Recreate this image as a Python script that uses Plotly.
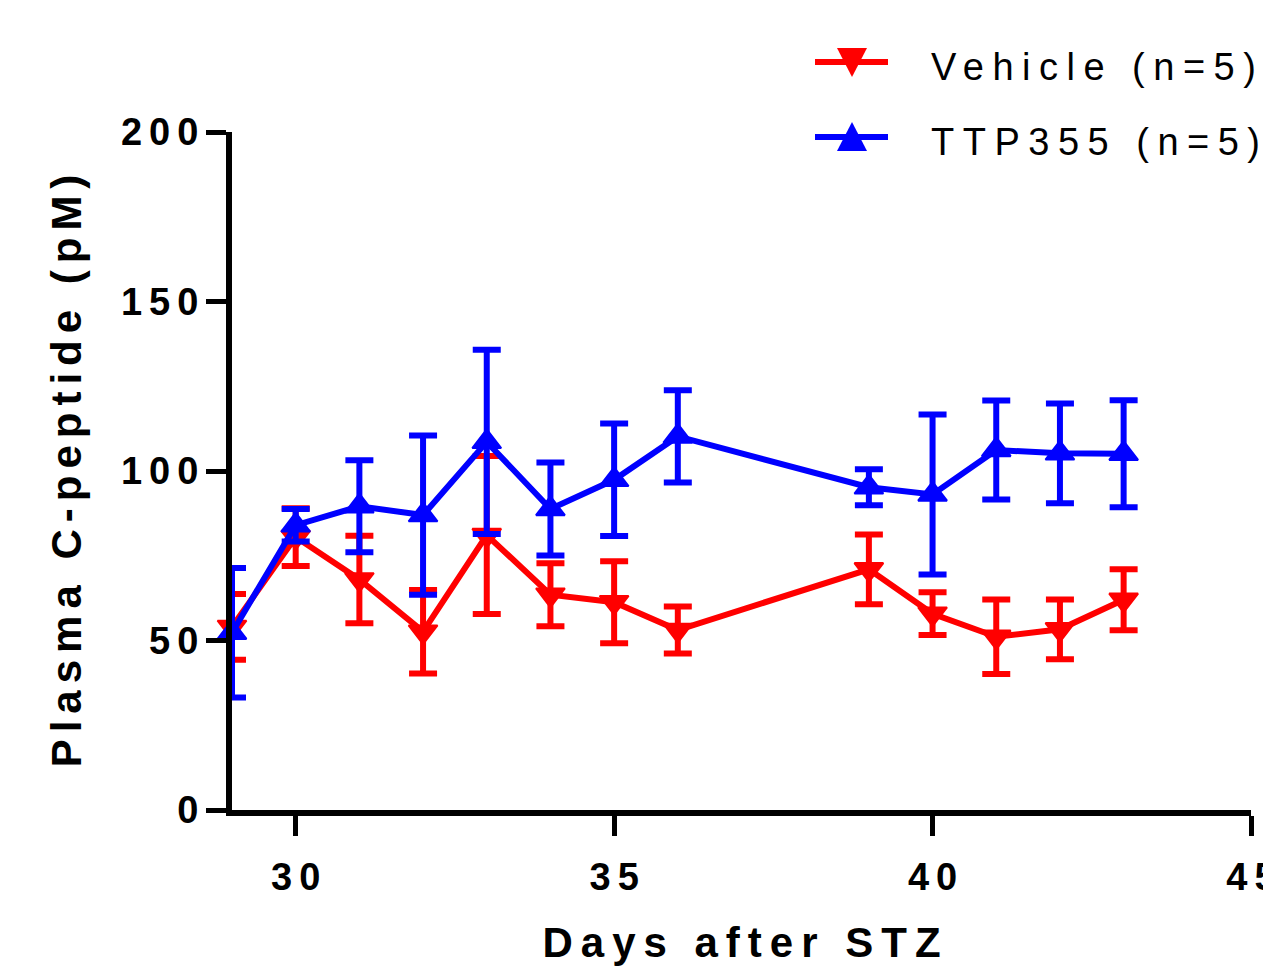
import plotly.graph_objects as go

days = [29, 30, 31, 32, 33, 34, 35, 36, 39, 40, 41, 42, 43]
vehicle_mean = [54.0, 80.5, 68.0, 52.6, 81.1, 63.5, 61.3, 53.1, 71.0, 57.9, 51.1, 53.3, 62.0]
vehicle_err = [9.7, 8.5, 12.9, 12.3, 23.3, 9.3, 12.1, 6.9, 10.3, 6.3, 11.0, 8.8, 9.0]
ttp_mean = [52.3, 84.0, 89.6, 87.0, 108.6, 88.8, 97.4, 110.2, 95.2, 93.1, 106.2, 105.2, 105.1]
ttp_err = [19.1, 4.8, 13.6, 23.5, 27.2, 13.7, 16.6, 13.6, 5.3, 23.6, 14.6, 14.7, 15.8]

x_ticks = [30, 35, 40, 45]
y_ticks = [0, 50, 100, 150, 200]
series_names = ["Vehicle (n=5)", "TTP355 (n=5)"]

RED = "#FF0000"
BLUE = "#0000FF"
FONT = "Arial, Liberation Sans, sans-serif"

W, H = 1263, 966
L, R, T, B = 232, 12, 132, 156
PW, PH = W - L - R, H - T - B


def px(x):
    return (x - L) / PW


def py(y):
    return (H - B - y) / PH


def spaced(s, sp):
    # letter spacing between characters, no trailing gap after the last one
    if len(s) <= 1:
        return s
    return f'<span style="letter-spacing:{sp}px">{s[:-1]}</span>{s[-1]}'


fig = go.Figure()

fig.add_trace(go.Scatter(
    x=days, y=vehicle_mean, name=series_names[0], mode="lines+markers",
    line=dict(color=RED, width=6),
    marker=dict(symbol="triangle-down", size=25, color=RED, line=dict(color=RED, width=2)),
    error_y=dict(type="data", array=vehicle_err, visible=True, color=RED, thickness=6, width=14),
    cliponaxis=False, showlegend=False,
))
fig.add_trace(go.Scatter(
    x=days, y=ttp_mean, name=series_names[1], mode="lines+markers",
    line=dict(color=BLUE, width=6),
    marker=dict(symbol="triangle-up", size=25, color=BLUE, line=dict(color=BLUE, width=2)),
    error_y=dict(type="data", array=ttp_err, visible=True, color=BLUE, thickness=6, width=14),
    cliponaxis=False, showlegend=False,
))

fig.update_xaxes(
    range=[29, 45], tickvals=x_ticks, ticktext=[spaced(str(v), 7) for v in x_ticks],
    showline=True, linecolor="black", linewidth=6, ticks="outside", ticklen=20, tickwidth=5,
    tickcolor="black", showgrid=False, zeroline=False, ticklabelstandoff=8,
    ticklabeloverflow="allow",
    tickfont=dict(family=FONT, size=38, color="black", weight="bold"),
    title=dict(text=spaced("Days after STZ", 8), standoff=50,
               font=dict(family=FONT, size=42, color="black", weight="bold")),
)
fig.update_yaxes(
    range=[0, 200], tickvals=y_ticks, ticktext=[spaced(str(v), 7) for v in y_ticks],
    showline=True, linecolor="black", linewidth=6, ticks="outside", ticklen=20, tickwidth=5,
    tickcolor="black", showgrid=False, zeroline=False, ticklabelstandoff=0,
    tickfont=dict(family=FONT, size=38, color="black", weight="bold"),
    title=dict(text=spaced("Plasma C-peptide (pM)", 7), standoff=28,
               font=dict(family=FONT, size=42, color="black", weight="bold")),
)

# manual legend
shapes = []
annotations = []
legend_rows = [(62, RED, "down", series_names[0], 67), (137, BLUE, "up", series_names[1], 142)]
for y, col, direc, name, ty in legend_rows:
    shapes.append(dict(type="line", xref="paper", yref="paper", x0=px(815), x1=px(888),
                       y0=py(y), y1=py(y), line=dict(color=col, width=6)))
    if direc == "down":
        path = f"M {px(837)} {py(y-14)} L {px(867)} {py(y-14)} L {px(852)} {py(y+15)} Z"
    else:
        path = f"M {px(837)} {py(y+14)} L {px(867)} {py(y+14)} L {px(852)} {py(y-15)} Z"
    shapes.append(dict(type="path", xref="paper", yref="paper", path=path,
                       fillcolor=col, line=dict(color=col, width=0)))
    annotations.append(dict(xref="paper", yref="paper", x=px(929), y=py(ty), xanchor="left",
                            yanchor="middle", showarrow=False, text=spaced(name, 8.5),
                            font=dict(family=FONT, size=38, color="black")))

fig.update_layout(
    width=W, height=H, margin=dict(l=L, r=R, t=T, b=B, autoexpand=False),
    plot_bgcolor="white", paper_bgcolor="white", showlegend=False,
    shapes=shapes, annotations=annotations,
)

fig.write_html("out.html")
